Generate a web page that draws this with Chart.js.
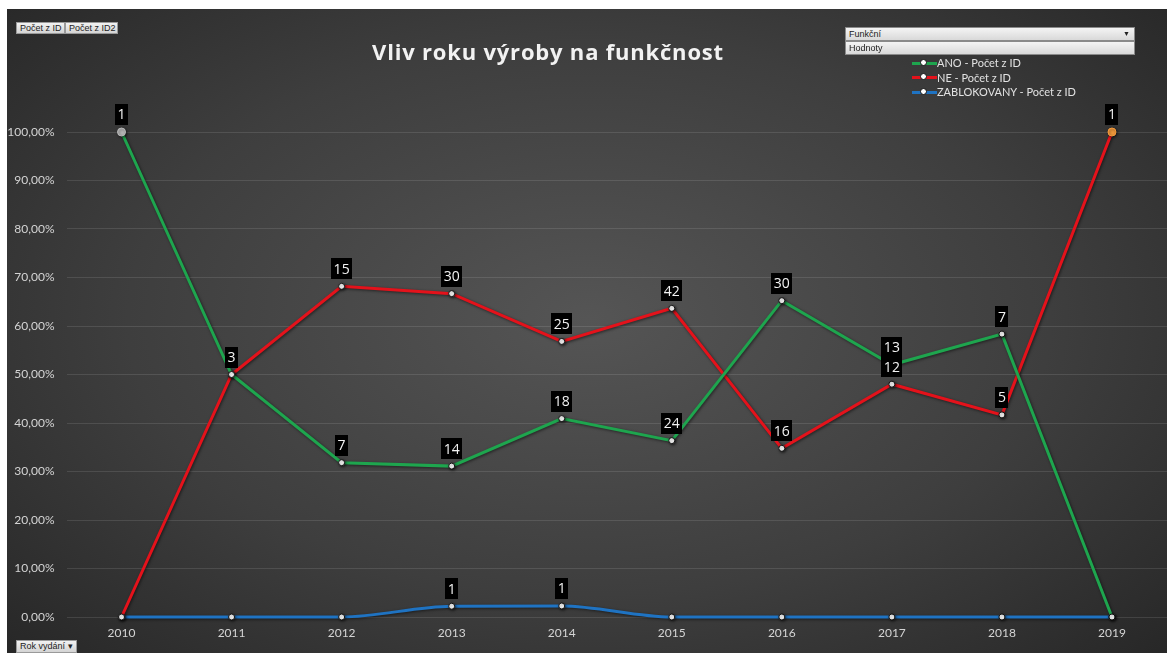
<!DOCTYPE html>
<html lang="cs">
<head>
<meta charset="utf-8">
<title>Vliv roku výroby na funkčnost</title>
<script src="https://cdn.jsdelivr.net/npm/chart.js@4.4.1/dist/chart.umd.min.js"></script>
<style>
  html, body { margin: 0; padding: 0; background: #fff; width: 1167px; height: 653px; overflow: hidden; }
  #panel {
    position: absolute; left: 7px; top: 9px; width: 1165px; height: 644px;
    background: radial-gradient(ellipse 72% 78% at 50% 48%, #555555 0%, #3e3e3e 55%, #252525 100%);
  }
  #panel canvas { position: absolute; left: 0; top: 0; }
  #title {
    position: absolute; left: 0; width: 1096px; top: 36px; text-align: center;
    font: bold 22px "Open Sans", Lato, sans-serif; color: #f2f2f2; letter-spacing: 0.8px;
  }
  .btn {
    position: absolute; height: 12px; box-sizing: border-box;
    background: linear-gradient(#f2f2f2, #d4d4d4); border: 1px solid #9a9a9a;
    font: 9px "Liberation Sans", Arial, sans-serif; color: #222; line-height: 10px; padding: 0 3px;
    white-space: nowrap; overflow: hidden;
  }
  .filter {
    position: absolute; left: 845px; width: 290px; height: 14px; box-sizing: border-box;
    background: linear-gradient(#f4f4f4, #d9d9d9); border: 1px solid #8a8a8a;
    font: 9px "Liberation Sans", Arial, sans-serif; color: #222; line-height: 12px; padding: 0 3px;
  }
  .filter .arr { position: absolute; right: 4px; top: 0; font-size: 7px; }
  #legend { position: absolute; left: 912px; top: 56px; font: 11px Lato, "Open Sans", sans-serif; color: #e2e2e2; }
  #legend .row { height: 14.5px; line-height: 14.5px; white-space: nowrap; }
  #legend .mk { display: inline-block; position: relative; width: 25px; height: 3px; vertical-align: middle; margin-top: -2px; }
  #legend .mk i { position: absolute; left: 9px; top: -2.5px; width: 5px; height: 5px; border-radius: 50%; background: #fff; border: 1px solid #111; box-sizing: content-box; margin-left: -1px; margin-top: -0.5px; }
</style>
</head>
<body>
<div id="panel">
  <canvas id="chart" width="1165" height="644"></canvas>
</div>
<div id="title">Vliv roku výroby na funkčnost</div>
<div class="btn" style="left:16px; top:22px; width:49px;">Počet z ID</div>
<div class="btn" style="left:65px; top:22px; width:53px;">Počet z ID2</div>
<div class="btn" style="left:16px; top:640px; width:61px; height:13px;">Rok vydání &#9662;</div>
<div class="filter" style="top:27px;">Funkční<span class="arr">&#9660;</span></div>
<div class="filter" style="top:41px;">Hodnoty</div>
<div id="legend">
  <div class="row"><span class="mk" style="background:#1ea54e"><i></i></span>ANO - Počet z ID</div>
  <div class="row"><span class="mk" style="background:#e4121b"><i></i></span>NE - Počet z ID</div>
  <div class="row"><span class="mk" style="background:#1f73c2"><i></i></span>ZABLOKOVANY - Počet z ID</div>
</div>
<script>
// roky (osa X)
const years = ["2010", "2011", "2012", "2013", "2014", "2015", "2016", "2017", "2018", "2019"];

// podíly v % (osa Y)
const anoPct = [100, 50, 31.82, 31.11, 40.91, 36.36, 65.22, 52.0, 58.33, 0];
const nePct = [0, 50, 68.18, 66.67, 56.82, 63.64, 34.78, 48.0, 41.67, 100];
const zablPct = [0, 0, 0, 2.22, 2.27, 0, 0, 0, 0, 0];

// popisky dat (Počet z ID)
const anoCount = [1, 3, 7, 14, 18, 24, 30, 13, 7, null];
const neCount = [null, 3, 15, 30, 25, 42, 16, 12, 5, 1];
const zablCount = [null, null, null, 1, 1, null, null, null, null, null];

// osa Y
const yTicks = [0, 10, 20, 30, 40, 50, 60, 70, 80, 90, 100];

const GREEN = "#1ea54e";
const RED = "#e4121b";
const BLUE = "#1f73c2";

function pointColors(n, special, color) {
  return Array.from({ length: n }, (_, i) => (i === special ? color : "#ffffff"));
}
function pointSizes(n, special) {
  return Array.from({ length: n }, (_, i) => (i === special ? 4 : 3));
}

// stín pod čarami
const lineShadow = {
  id: "lineShadow",
  beforeDatasetDraw(chart) {
    const ctx = chart.ctx;
    ctx.save();
    ctx.shadowColor = "rgba(0,0,0,0.55)";
    ctx.shadowBlur = 3;
    ctx.shadowOffsetX = 1;
    ctx.shadowOffsetY = 1;
  },
  afterDatasetDraw(chart) {
    chart.ctx.restore();
  },
};

// černé štítky s počty nad body
const dataLabels = {
  id: "dataLabels",
  afterDatasetsDraw(chart) {
    const ctx = chart.ctx;
    ctx.save();
    ctx.font = "14px 'Open Sans', Lato, sans-serif";
    ctx.textAlign = "center";
    ctx.textBaseline = "middle";
    chart.data.datasets.forEach((ds, i) => {
      const meta = chart.getDatasetMeta(i);
      meta.data.forEach((pt, j) => {
        const val = ds.counts[j];
        if (val == null) return;
        const txt = String(val);
        const w = ctx.measureText(txt).width + 5;
        const h = 21;
        const bottom = pt.y - 7;
        ctx.fillStyle = "#000";
        ctx.fillRect(Math.round(pt.x - w / 2), Math.round(bottom - h), Math.round(w), h);
        ctx.fillStyle = "#f2f2f2";
        ctx.fillText(txt, pt.x, bottom - h / 2 + 1);
      });
    });
    ctx.restore();
  },
};

const n = years.length;

new Chart(document.getElementById("chart"), {
  type: "line",
  data: {
    labels: years,
    datasets: [
      {
        label: "ANO - Počet z ID",
        data: anoPct,
        counts: anoCount,
        borderColor: GREEN,
        borderWidth: 3,
        tension: 0,
        pointBackgroundColor: pointColors(n, 0, "#b8b8b8"),
        pointBorderColor: pointColors(n, 0, "#b8b8b8").map((c) => (c === "#ffffff" ? "#111" : c)),
        pointBorderWidth: 1,
        pointRadius: pointSizes(n, 0),
        clip: false,
      },
      {
        label: "NE - Počet z ID",
        data: nePct,
        counts: neCount,
        borderColor: RED,
        borderWidth: 3,
        tension: 0,
        pointBackgroundColor: pointColors(n, 9, "#f39a3c"),
        pointBorderColor: pointColors(n, 9, "#f39a3c").map((c) => (c === "#ffffff" ? "#111" : c)),
        pointBorderWidth: 1,
        pointRadius: pointSizes(n, 9),
        clip: false,
      },
      {
        label: "ZABLOKOVANY - Počet z ID",
        data: zablPct,
        counts: zablCount,
        borderColor: BLUE,
        borderWidth: 3,
        cubicInterpolationMode: "monotone",
        tension: 0.4,
        pointBackgroundColor: "#ffffff",
        pointBorderColor: "#111",
        pointBorderWidth: 1,
        pointRadius: 3,
        clip: false,
      },
    ],
  },
  options: {
    responsive: false,
    animation: false,
    layout: { padding: { top: 123, left: 0, right: 0, bottom: 0 } },
    plugins: {
      legend: { display: false },
      tooltip: { enabled: false },
    },
    scales: {
      x: {
        offset: true,
        grid: { display: false, drawTicks: false },
        border: { display: false },
        ticks: { color: "#d4d4d4", font: { family: "Lato, 'Open Sans', sans-serif", size: 12 }, padding: 9, maxRotation: 0 },
        afterFit(scale) { scale.height = 36; },
      },
      y: {
        min: 0,
        max: 100,
        afterBuildTicks(scale) { scale.ticks = yTicks.map((v) => ({ value: v })); },
        grid: { color: "rgba(255,255,255,0.11)", drawTicks: false, lineWidth: 1 },
        border: { display: false },
        ticks: {
          color: "#d4d4d4",
          font: { family: "Lato, 'Open Sans', sans-serif", size: 12 },
          padding: 12,
          callback: (v) => v.toFixed(2).replace(".", ",") + "%",
        },
        afterFit(scale) { scale.width = 59.5; },
      },
    },
  },
  plugins: [lineShadow, dataLabels],
});
</script>
</body>
</html>
